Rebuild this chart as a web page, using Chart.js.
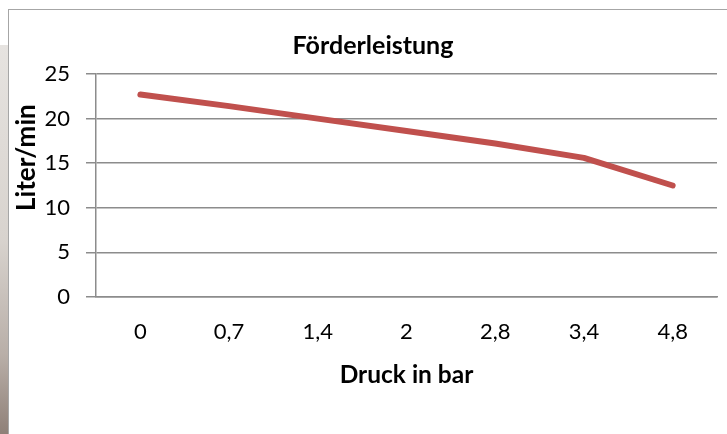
<!DOCTYPE html>
<html>
<head>
<meta charset="utf-8">
<script src="https://cdn.jsdelivr.net/npm/chart.js@4"></script>
<style>
  html, body { margin: 0; padding: 0; background: #fff; }
  body { width: 727px; height: 434px; position: relative; overflow: hidden; }
  #strip {
    position: absolute; left: 0; top: 45px; width: 8px; height: 389px;
    background: linear-gradient(#e6e3e0, #d8d3ce 50%, #b8aea7 80%, #8f8078);
  }
  #frame {
    position: absolute; left: 8px; top: 9px; width: 760px; height: 480px;
    border-left: 1px solid #a6a6a6; border-top: 1px solid #a6a6a6;
    background: #fff;
  }
  #wrap { position: absolute; left: 0; top: 0; width: 727px; height: 434px; }
</style>
</head>
<body>
<div id="strip"></div>
<div id="frame"></div>
<div id="wrap"><canvas id="chart" width="727" height="434"></canvas></div>
<script>
const druck = ["0", "0,7", "1,4", "2", "2,8", "3,4", "4,8"];
const literProMin = [22.7, 21.4, 20.0, 18.6, 17.2, 15.6, 12.5];
const yTicks = [0, 5, 10, 15, 20, 25];

const gridGrey = "#8c8c8c";
const fontFamily = "Lato, 'Open Sans', sans-serif";

// y axis title sits a bit above the middle of the plot, like in the Excel original
const yTitlePlugin = {
  id: "yTitle",
  afterDraw(chart) {
    const { ctx, chartArea } = chart;
    const y = chartArea.top + (chartArea.bottom - chartArea.top) * 0.375;
    ctx.save();
    ctx.translate(27, y);
    ctx.rotate(-Math.PI / 2);
    ctx.font = "bold 26px " + fontFamily;
    ctx.fillStyle = "#000";
    ctx.textAlign = "center";
    ctx.textBaseline = "middle";
    ctx.fillText("Liter/min", 0, 0);
    ctx.restore();
  },
};

new Chart(document.getElementById("chart"), {
  type: "line",
  data: {
    labels: druck,
    datasets: [
      {
        label: "Förderleistung",
        data: literProMin,
        borderColor: "#c0504d",
        borderWidth: 6,
        borderCapStyle: "round",
        borderJoinStyle: "round",
        pointRadius: 0,
        tension: 0,
        fill: false,
      },
    ],
  },
  options: {
    responsive: false,
    animation: false,
    // left padding moves the title centre to the right, the y scale width makes up for it
    layout: { padding: { left: 29, right: 10, top: 0, bottom: 0 } },
    plugins: {
      legend: { display: false },
      tooltip: { enabled: false },
      title: {
        display: true,
        text: "Förderleistung",
        color: "#000",
        font: { family: fontFamily, size: 25, weight: "bold", lineHeight: 1.2 },
        padding: { top: 31, bottom: 13 },
      },
    },
    scales: {
      x: {
        offset: true,
        grid: { display: false, drawTicks: false },
        border: { display: true, color: gridGrey, width: 1.5 },
        ticks: {
          color: "#000",
          padding: 22,
          font: { family: fontFamily, size: 22 },
        },
        title: {
          display: true,
          text: "Druck in bar",
          color: "#000",
          font: { family: fontFamily, size: 24.5, weight: "bold", lineHeight: 1.2 },
          padding: { top: 0, bottom: 44 },
        },
        afterFit: (scale) => { scale.height = 137; },
      },
      y: {
        min: 0,
        max: 25,
        afterBuildTicks: (scale) => {
          scale.ticks = yTicks.map((v) => ({ value: v }));
        },
        grid: { color: gridGrey, lineWidth: 1.5, tickLength: 10 },
        border: { display: true, color: gridGrey, width: 1.5 },
        ticks: {
          color: "#000",
          padding: 16,
          font: { family: fontFamily, size: 22 },
        },
        afterFit: (scale) => { scale.width = 67; },
      },
    },
  },
  plugins: [yTitlePlugin],
});
</script>
</body>
</html>
